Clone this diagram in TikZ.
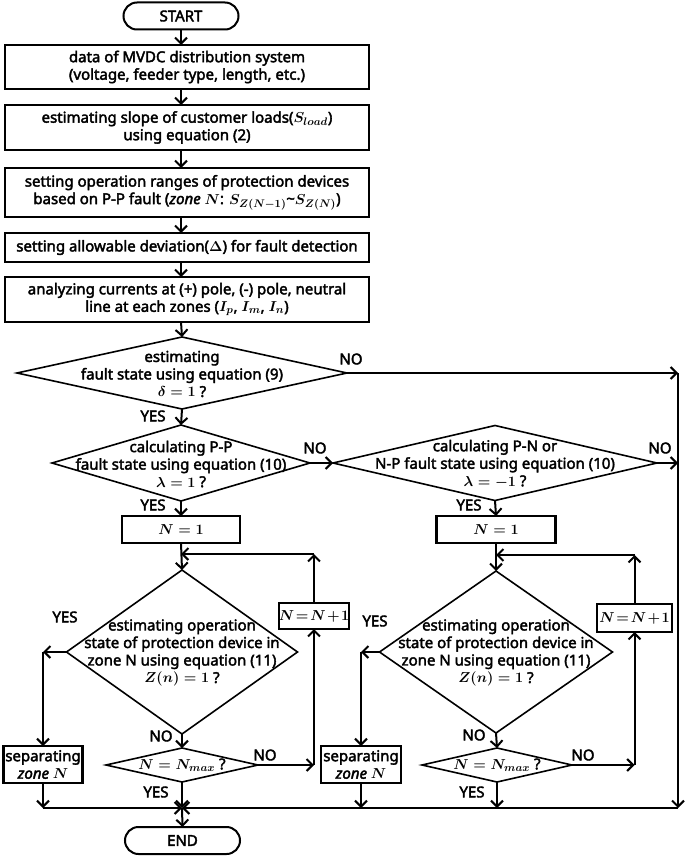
\documentclass[tikz,border=0pt]{standalone}
\usepackage{fontspec}
\setmainfont{Noto Sans}[BoldFont={Noto Sans},BoldFeatures={FakeBold=2.5},BoldItalicFont={Noto Sans Italic},BoldItalicFeatures={FakeBold=2.5}]
\usetikzlibrary{arrows.meta,shapes.geometric}
\newcommand{\tightmath}[1]{$\thickmuskip=2mu \medmuskip=1.5mu #1$}
\tikzset{
  base/.style={font=\fontsize{15}{17.5}\selectfont\bfseries\boldmath, align=center, inner sep=0pt, outer sep=0pt},
  term/.style={base, draw, line width=2pt, rounded corners=13.5pt, minimum width=115pt, minimum height=27pt},
  pbox/.style={base, draw, line width=2.1pt},
  dia/.style={base, draw, diamond, line width=1.6pt},
  lbl/.style={base},
  arr/.style={line width=2pt, -{Straight Barb[length=6pt,width=12pt,line width=2pt]}}
}
\begin{document}
\begin{tikzpicture}[x=1pt,y=-1pt]
\useasboundingbox (0,0) rectangle (685,856);
% terminals
\node[term] (start) at (181,16) {START};
\node[term] (stop) at (182.5,840.5) {END};
% process boxes
\node[pbox, minimum width=364pt, minimum height=44pt] (b1) at (187,67) {data of MVDC distribution system\\(voltage, feeder type, length, etc.)};
\node[pbox, minimum width=364pt, minimum height=45pt] (b2) at (187,127.5) {estimating slope of customer loads($S_{load}$)\\using equation (2)};
\node[pbox, minimum width=364pt, minimum height=49pt] (b3) at (187,192.5) {setting operation ranges of protection devices\\based on P-P fault ($\mathit{zone}\ N$: $S_{Z(N-1)}$\textasciitilde$S_{Z(N)}$)};
\node[pbox, minimum width=364pt, minimum height=29pt] (b4) at (187,247.5) {setting allowable deviation($\Delta$) for fault detection};
\node[pbox, minimum width=364pt, minimum height=45pt] (b5) at (187,299.5) {analyzing currents at (+) pole, (-) pole, neutral\\line at each zones ($I_p$, $I_m$, $I_n$)};
% decisions
\node[dia, minimum width=330pt, minimum height=72pt] (d1) at (182,373) {};
\node[lbl] (t1) at (182,374) {estimating\\fault state using equation (9)\\$\delta = 1$ ?};
\node[dia, minimum width=258pt, minimum height=76pt] (d2) at (181,463) {};
\node[lbl] (t2) at (181,464) {calculating P-P\\fault state using equation (10)\\$\lambda = 1$ ?};
\node[dia, minimum width=324pt, minimum height=75pt] (d3) at (495,463) {};
\node[lbl] (t3) at (495,464) {calculating P-N or\\N-P fault state using equation (10)\\$\lambda = -1$ ?};
% N=1
\node[pbox, minimum width=118pt, minimum height=27pt] (n1) at (181,529.5) {$N = 1$};
\node[pbox, minimum width=119pt, minimum height=27pt] (n2) at (496,529.5) {$N = 1$};
% zone decisions
\node[dia, minimum width=231pt, minimum height=164pt] (d4) at (182,652) {};
\node[lbl] (t4) at (182,653) {estimating operation\\state of protection device in\\zone N using equation (11)\\$Z(n) = 1$ ?};
\node[dia, minimum width=233pt, minimum height=162pt] (d5) at (496,652) {};
\node[lbl] (t5) at (496,653) {estimating operation\\state of protection device in\\zone N using equation (11)\\$Z(n) = 1$ ?};
% N = N+1
\node[pbox, minimum width=68pt, minimum height=26pt] (p1) at (314,616) {\tightmath{N = N + 1}};
\node[pbox, minimum width=75pt, minimum height=28pt] (p2) at (634.5,618) {\tightmath{N = N + 1}};
% separating
\node[pbox, minimum width=79pt, minimum height=37pt] (s1) at (43,764.5) {separating\\$\mathit{zone}\ N$};
\node[pbox, minimum width=80pt, minimum height=37pt] (s2) at (361,764.5) {separating\\$\mathit{zone}\ N$};
% Nmax
\node[dia, minimum width=152pt, minimum height=34pt] (m1) at (182,765) {};
\node[lbl] (tm1) at (182,765) {$N = N_{max}$ ?};
\node[dia, minimum width=150pt, minimum height=34pt] (m2) at (497,765) {};
\node[lbl] (tm2) at (497,765) {$N = N_{max}$ ?};
% helper coordinates
\coordinate (j) at (182,808);
\coordinate (rr) at (678,373);
\coordinate (c1) at (181,554);
\coordinate (c2) at (496,555);
% top chain
\draw[arr] (start) -- (start |- b1.north);
\draw[arr] (start |- b1.south) -- (start |- b2.north);
\draw[arr] (start |- b2.south) -- (start |- b3.north);
\draw[arr] (start |- b3.south) -- (start |- b4.north);
\draw[arr] (start |- b4.south) -- (start |- b5.north);
\draw[arr] (start |- b5.south) -- (d1.north);
\draw[arr] (d1.south) -- (d2.north);
\draw[arr] (d2.south) -- (n1.north);
\draw[arr] (d3.south) -- (n2.north);
% NO branches on top
\draw[arr] (d1.east) -- (rr);
\draw[arr] (rr) -- (rr |- j);
\draw[arr] (d2.east) -- (d3.west);
\draw[arr] (d3.east) -- (d3.east -| rr);
% left loop
\draw[arr] (n1.south) -- (d4.north);
\draw[arr] (p1.north) -- (p1.north |- c1);
\draw[arr] (p1.north |- c1) -- (c1);
\draw[arr] (d4.west) -- (d4.west -| s1);
\draw[arr] (d4.west -| s1) -- (s1.north);
\draw[arr] (d4.south) -- (m1.north);
\draw[arr] (m1.east) -- (m1.east -| p1);
\draw[arr] (m1.east -| p1) -- (p1.south);
% right loop
\draw[arr] (n2.south) -- (d5.north);
\draw[arr] (p2.north) -- (p2.north |- c2);
\draw[arr] (p2.north |- c2) -- (c2);
\draw[arr] (d5.west) -- (d5.west -| s2);
\draw[arr] (d5.west -| s2) -- (s2.north);
\draw[arr] (d5.south) -- (m2.north);
\draw[arr] (m2.east) -- (m2.east -| p2);
\draw[arr] (m2.east -| p2) -- (p2.south);
% bottom collection
\draw[arr] (s1.south) -- (s1 |- j);
\draw[arr] (s1 |- j) -- (j);
\draw[arr] (m1.south) -- (j);
\draw[arr] (s2.south) -- (s2 |- j);
\draw[arr] (m2.south) -- (m2 |- j);
\draw[arr] (rr |- j) -- (j);
\draw[arr] (j) -- (stop.north);
% labels
\node[lbl] (l1) at (351,359) {NO};
\node[lbl] (l2) at (153,416) {YES};
\node[lbl] (l3) at (315,448) {NO};
\node[lbl] (l4) at (153,505) {YES};
\node[lbl] (l5) at (660,448) {NO};
\node[lbl] (l6) at (469,505) {YES};
\node[lbl] (l7) at (65,617) {YES};
\node[lbl] (l8) at (375,621) {YES};
\node[lbl] (l9) at (161,736) {NO};
\node[lbl] (l10) at (474,735) {NO};
\node[lbl] (l11) at (265,755) {NO};
\node[lbl] (l12) at (583,755) {NO};
\node[lbl] (l13) at (156,792) {YES};
\node[lbl] (l14) at (472,792) {YES};
\end{tikzpicture}
\end{document}
